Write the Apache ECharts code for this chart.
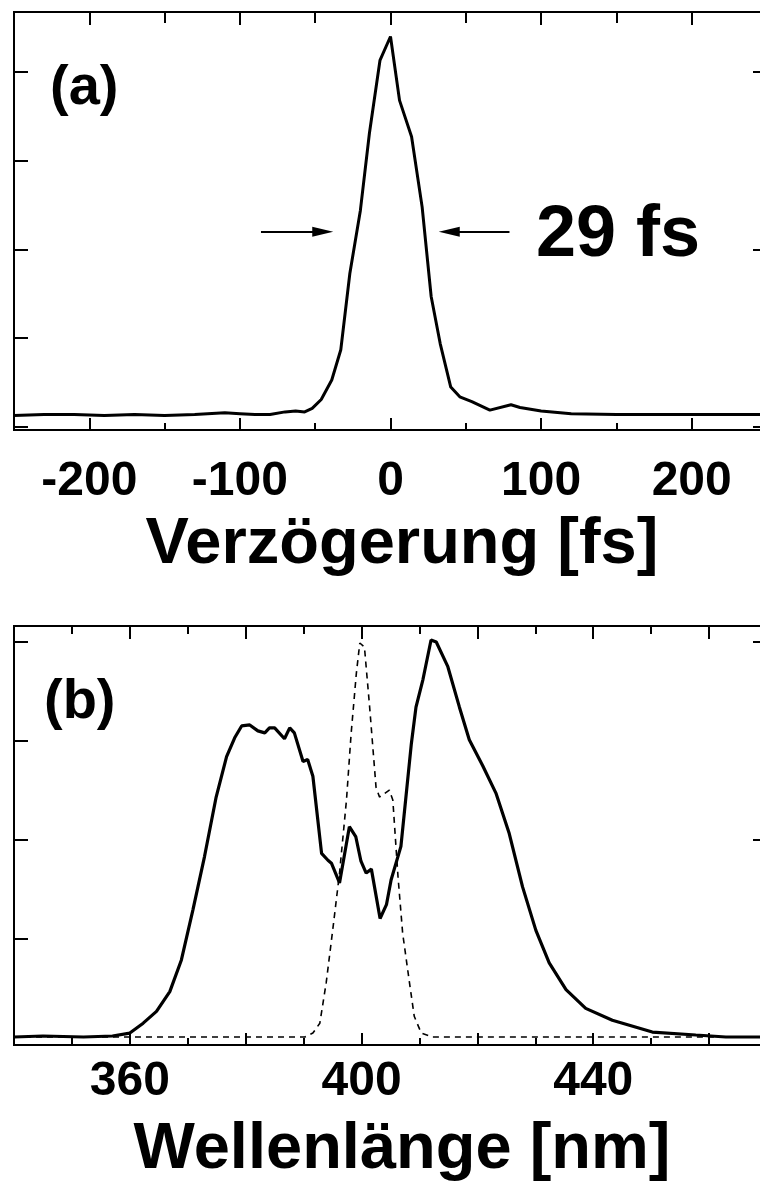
<!DOCTYPE html>
<html>
<head>
<meta charset="utf-8">
<script src="https://cdn.jsdelivr.net/npm/echarts@6/dist/echarts.min.js"></script>
<style>
html,body{margin:0;padding:0;overflow:hidden;background:#fff;}
#c{width:770px;height:1182px;}
</style>
</head>
<body>
<div id="c"></div>
<script>
// ---- Data ----
// Panel (a): autocorrelation vs delay
const delayFs = [-250,-230,-210,-190,-170,-150,-130,-110,-100,-90,-80,-70,-63,-57,-52,-46,-39,-33,-27,-20,-14,-7,0,6,14,21,27,33,40,46,54,66,80,86,100,120,150,180,210,250];
const acSignal = [0.13,0.14,0.14,0.13,0.14,0.13,0.14,0.16,0.15,0.14,0.14,0.17,0.18,0.17,0.21,0.31,0.53,0.87,1.73,2.44,3.31,4.13,4.40,3.68,3.27,2.48,1.47,0.94,0.45,0.34,0.285,0.19,0.25,0.22,0.18,0.15,0.14,0.14,0.14,0.14];
const delayTicksMajor = [-200,-100,0,100,200];
const delayTicksMinor = [-150,-50,50,150];
const fwhmLabel = '29 fs';
const fwhmArrowY = 2.2;
const fwhmLeftArrow = [-86,-45];
const fwhmRightArrow = [79,39];

// Panel (b): spectra
const wlSolidNm = [340,345,352,357,360,362.3,364.6,366.9,368.9,370.9,372.9,374.9,376.7,378.1,379.3,380.7,382.1,383.3,384.1,385,386.7,387.6,388.4,389.9,390.7,391.6,393.1,394.2,394.8,396.2,397.9,399,399.9,400.8,401.7,403.2,404.3,405.1,406.8,408.6,409.4,410.6,412,412.9,414.9,416.9,418.6,420.9,423.2,425.5,427.8,430.1,432.4,435.3,438.7,443.3,450.2,457.7,462.9,470];
const solidSpectrum = [0.00,0.01,0.00,0.01,0.04,0.14,0.26,0.46,0.78,1.29,1.83,2.43,2.84,3.03,3.15,3.16,3.10,3.08,3.13,3.13,3.02,3.13,3.08,2.79,2.81,2.64,1.86,1.79,1.76,1.56,2.13,2.03,1.78,1.66,1.70,1.20,1.34,1.59,1.93,2.97,3.34,3.62,4.02,4.00,3.75,3.34,3.01,2.75,2.47,2.06,1.52,1.08,0.75,0.48,0.29,0.17,0.05,0.02,0.00,0.00];
const wlDashNm = [340,390.2,391.6,392.8,393.9,395.1,396.2,397.4,398.2,399.1,399.7,400.5,401.4,402.5,403.1,404.8,405.4,406.3,407.1,408.3,409.1,410.3,412.3,470];
const dashedSpectrum = [0,0,0.04,0.14,0.55,1.12,1.66,2.40,3.07,3.68,3.99,3.95,3.34,2.53,2.43,2.50,2.40,1.62,1.05,0.54,0.21,0.04,0,0];
const wlTicksMajor = [360,380,400,420,440,460];
const wlTicksMinor = [350,370,390,410,430,450];
const wlLabels = [360,400,440];

const yTicksAll = [0,1,2,3,4];
const yTicksRightMajor = [0,2,4];
const yTicksRightMinor = [1,3];

const xTitleA = 'Verzögerung [fs]';
const xTitleB = 'Wellenlänge [nm]';
const panelA = '(a)';
const panelB = '(b)';

// ---- Chart ----
const FONT = "'Liberation Sans', Arial, sans-serif";
const BLK = '#000';

function xAx(gridIndex, min, max, pos, ticks, len, labels, margin) {
  return {
    type: 'value', gridIndex, min, max, position: pos,
    axisLine: {show: false, onZero: false},
    splitLine: {show: false},
    axisTick: {show: true, inside: true, length: len, customValues: ticks, lineStyle: {color: BLK, width: 2}},
    axisLabel: labels ? {show: true, customValues: labels, color: BLK, fontFamily: FONT, fontWeight: 'bold', fontSize: 48, margin: margin}
                      : {show: false}
  };
}
function yAx(gridIndex, min, max, pos, ticks, len) {
  return {
    type: 'value', gridIndex, min, max, position: pos,
    axisLine: {show: false, onZero: false},
    splitLine: {show: false},
    axisTick: {show: true, inside: true, length: len, customValues: ticks, lineStyle: {color: BLK, width: 2}},
    axisLabel: {show: false}
  };
}

const aMin = -0.034, aMax = 4.676;
const bMin = -0.081, bMax = 4.162;

const option = {
  animation: false,
  backgroundColor: '#fff',
  grid: [
    {left: 14, top: 12, width: 753, height: 418, show: true, borderColor: BLK, borderWidth: 2, backgroundColor: 'transparent'},
    {left: 14, top: 626, width: 753, height: 419, show: true, borderColor: BLK, borderWidth: 2, backgroundColor: 'transparent'}
  ],
  xAxis: [
    xAx(0, -250, 250, 'bottom', delayTicksMajor, 12, delayTicksMajor, 28),
    xAx(0, -250, 250, 'bottom', delayTicksMinor, 7, null),
    xAx(0, -250, 250, 'top', delayTicksMajor, 13, null),
    xAx(0, -250, 250, 'top', delayTicksMinor, 11, null),
    xAx(1, 340, 470, 'bottom', wlTicksMajor, 12, wlLabels, 13),
    xAx(1, 340, 470, 'bottom', wlTicksMinor, 7, null),
    xAx(1, 340, 470, 'top', wlTicksMajor, 13, null),
    xAx(1, 340, 470, 'top', wlTicksMinor, 8, null)
  ],
  yAxis: [
    yAx(0, aMin, aMax, 'left', yTicksAll, 14),
    yAx(0, aMin, aMax, 'right', yTicksRightMajor, 14),
    yAx(0, aMin, aMax, 'right', yTicksRightMinor, 5),
    yAx(1, bMin, bMax, 'left', yTicksAll, 14),
    yAx(1, bMin, bMax, 'right', yTicksRightMajor, 14),
    yAx(1, bMin, bMax, 'right', yTicksRightMinor, 5)
  ],
  series: [
    {
      type: 'line', xAxisIndex: 0, yAxisIndex: 0,
      data: delayFs.map((x, i) => [x, acSignal[i]]),
      showSymbol: false, lineStyle: {color: BLK, width: 3}, z: 5,
      markLine: {
        silent: true, animation: false,
        symbol: ['none', 'triangle'], symbolSize: [10, 21],
        lineStyle: {color: BLK, width: 2, type: 'solid'},
        itemStyle: {color: BLK},
        label: {show: false},
        data: [
          [{coord: [fwhmLeftArrow[0], fwhmArrowY]}, {coord: [fwhmLeftArrow[1], fwhmArrowY]}],
          [{coord: [fwhmRightArrow[0], fwhmArrowY]}, {coord: [fwhmRightArrow[1], fwhmArrowY]}]
        ]
      }
    },
    {
      type: 'line', xAxisIndex: 4, yAxisIndex: 3,
      data: wlDashNm.map((x, i) => [x, dashedSpectrum[i]]),
      showSymbol: false, lineStyle: {color: BLK, width: 1.6, type: [6, 5]}, z: 4
    },
    {
      type: 'line', xAxisIndex: 4, yAxisIndex: 3,
      data: wlSolidNm.map((x, i) => [x, solidSpectrum[i]]),
      showSymbol: false, lineStyle: {color: BLK, width: 3.2}, z: 5
    }
  ],
  graphic: [
    {type: 'text', x: 50, y: 89, style: {text: panelA, font: 'bold 56px ' + FONT, fill: BLK, align: 'left', verticalAlign: 'middle', textAlign: 'left', textVerticalAlign: 'middle'}},
    {type: 'text', x: 44, y: 703, style: {text: panelB, font: 'bold 56px ' + FONT, fill: BLK, align: 'left', verticalAlign: 'middle', textAlign: 'left', textVerticalAlign: 'middle'}},
    {type: 'text', x: 536, y: 236, style: {text: fwhmLabel, font: 'bold 72px ' + FONT, fill: BLK, align: 'left', verticalAlign: 'middle', textAlign: 'left', textVerticalAlign: 'middle'}},
    {type: 'text', x: 402, y: 545, style: {text: xTitleA, font: 'bold 65px ' + FONT, fill: BLK, align: 'center', verticalAlign: 'middle', textAlign: 'center', textVerticalAlign: 'middle'}},
    {type: 'text', x: 402, y: 1150, style: {text: xTitleB, font: 'bold 65px ' + FONT, fill: BLK, align: 'center', verticalAlign: 'middle', textAlign: 'center', textVerticalAlign: 'middle'}}
  ]
};

const chart = echarts.init(document.getElementById('c'), null, {renderer: 'canvas'});
chart.setOption(option);
</script>
</body>
</html>
